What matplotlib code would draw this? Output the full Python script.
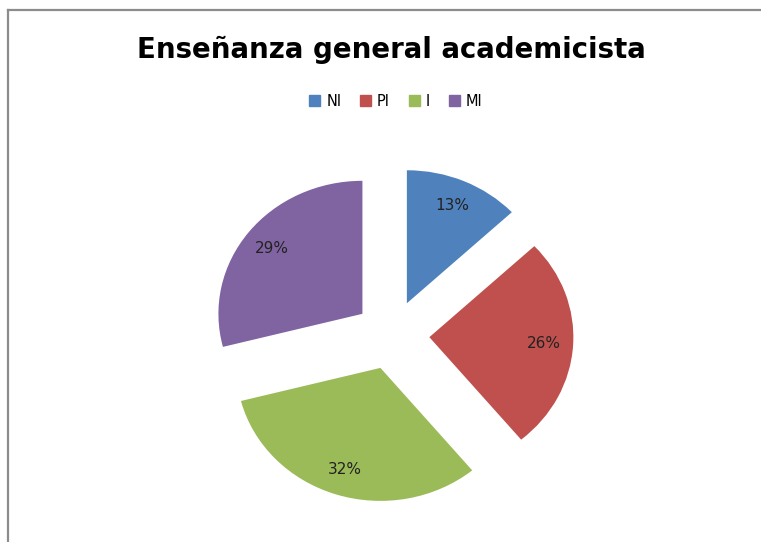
import matplotlib.pyplot as plt
from matplotlib.lines import Line2D
from matplotlib.patches import Patch

labels = ['NI', 'PI', 'I', 'MI']
values = [13, 26, 32, 29]
colors = ['#4F81BD', '#C0504D', '#9BBB59', '#8064A2']

fig = plt.figure(figsize=(7.61, 5.42), dpi=100)

# frame lines (top and left only, like the cropped excel chart)
fig.add_artist(Line2D([8 / 761, 8 / 761], [0, 1 - 10 / 542], color='#8c8c8c', lw=1.6))
fig.add_artist(Line2D([8 / 761, 1], [1 - 10 / 542, 1 - 10 / 542], color='#8c8c8c', lw=1.6))

# the original pie is slightly stretched horizontally
ax = fig.add_axes([176 / 761, 7.5 / 542, 432 / 761, 399 / 542])
wedges, texts, autotexts = ax.pie(
    values, colors=colors, startangle=90, counterclock=False,
    explode=[0.26] * 4, autopct='%1.0f%%', pctdistance=0.8,
    textprops={'fontsize': 11, 'color': '#222222'})
ax.set_aspect('auto')
ax.set_xlim(-1.5, 1.5)
ax.set_ylim(-1.5, 1.5)
ax.axis('off')

fig.text(391 / 761, 1 - 50 / 542, 'Enseñanza general academicista',
         ha='center', va='center', fontsize=19.9, fontweight='bold')

handles = [Patch(color=c, label=l) for c, l in zip(colors, labels)]
fig.legend(handles=handles, loc='center', bbox_to_anchor=(396 / 761, 1 - 101 / 542),
           ncol=4, frameon=False, fontsize=10.5, handlelength=0.75, handleheight=0.75,
           handletextpad=0.4, columnspacing=1.3)

fig.savefig('out.png', dpi=100)
